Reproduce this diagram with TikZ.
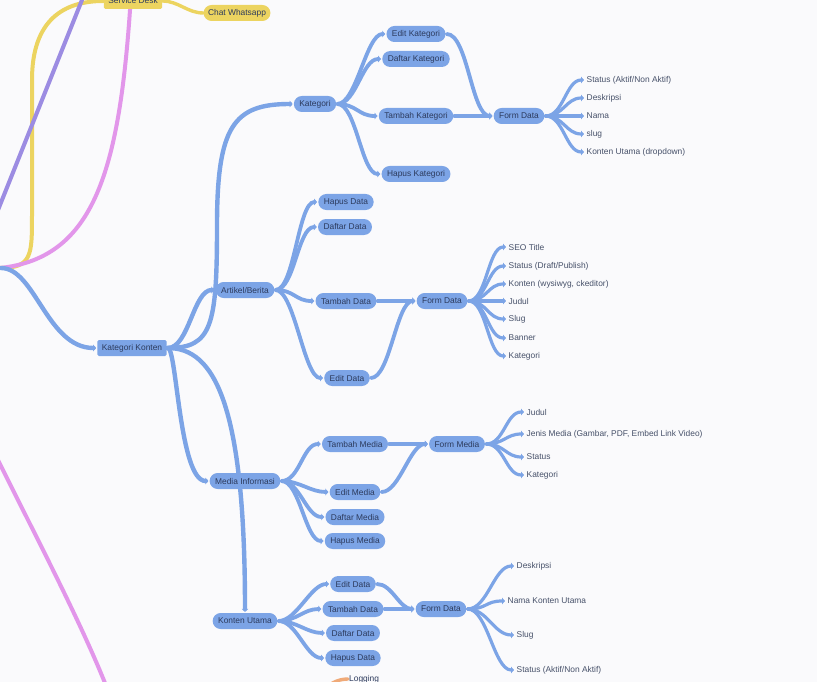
\documentclass[tikz,border=0pt]{standalone}
\usepackage{fontspec}
\setmainfont{Liberation Sans}
\usetikzlibrary{arrows.meta, positioning, backgrounds}
\definecolor{mapblue}{RGB}{124,164,230}
\definecolor{mapink}{RGB}{44,58,92}
\definecolor{leafink}{RGB}{70,80,105}
\definecolor{deskyellow}{RGB}{236,212,96}
\definecolor{linkpink}{RGB}{226,150,234}
\definecolor{linkviolet}{RGB}{156,140,226}
\definecolor{logorange}{RGB}{240,170,120}
\definecolor{paper}{RGB}{250,250,252}

\begin{document}
\begin{tikzpicture}[x=1pt, y=-1pt, font=\fontsize{8.4}{10}\selectfont,
  pill/.style={fill=mapblue, text=mapink, rounded corners=8pt, minimum height=16pt, inner xsep=5.5pt, inner ysep=0pt},
  topic/.style={pill, rounded corners=1.5pt, inner xsep=4.5pt},
  leaf/.style={text=leafink, anchor=west, inner sep=1.5pt},
  branch/.style={draw=mapblue, line width=3.8pt, line cap=round, shorten <=1pt, shorten >=1pt, -{Triangle[length=3pt, width=6.5pt]}},
  trunk/.style={branch, line width=4.4pt},
  twig/.style={branch, line width=3.2pt},
  deskline/.style={draw=deskyellow, line width=4pt, line cap=round}
]
  \useasboundingbox (0,0) rectangle (817,682);

  % off-page root and the other top-level branches
  \coordinate (root) at (0,268);
  \coordinate (ylow) at (32,215);
  \coordinate (yhigh) at (32,80);
  \coordinate (pinktop) at (131,-5);
  \coordinate (violetlow) at (-8,225);
  \coordinate (violettop) at (84,-5);
  \coordinate (pinklow) at (-3,458);
  \coordinate (pinkend) at (107,688);
  \coordinate (logstart) at (326,688);
  \coordinate (katspine) at (217,226);

  \node[topic, fill=deskyellow] (sd) at (133,1) {Service Desk};
  \node[pill, fill=deskyellow, inner xsep=4.5pt] (wa) at (237,13) {Chat Whatsapp};
  \node[text=mapink, anchor=west, inner sep=1pt] (log) at (348,679) {Logging};

  % Kategori Konten
  \node[topic] (kk) at (132,348) {Kategori Konten};

  % Kategori
  \node[pill] (kat) at (315,104) {Kategori};
  \node[pill] (ekat) at (416,34) {Edit Kategori};
  \node[pill] (dkat) at (416,59) {Daftar Kategori};
  \node[pill] (tkat) at (416,116) {Tambah Kategori};
  \node[pill] (hkat) at (416,174) {Hapus Kategori};
  \node[pill] (fkat) at (519,116) {Form Data};
  \node[leaf] (fk1) at (585,80) {Status (Aktif/Non Aktif)};
  \node[leaf] (fk2) at (585,98) {Deskripsi};
  \node[leaf] (fk3) at (585,116) {Nama};
  \node[leaf] (fk4) at (585,134) {slug};
  \node[leaf] (fk5) at (585,152) {Konten Utama (dropdown)};

  % Artikel/Berita
  \node[pill] (art) at (245,290) {Artikel/Berita};
  \node[pill] (hdat) at (346,202) {Hapus Data};
  \node[pill] (ddat) at (345,227) {Daftar Data};
  \node[pill] (tdat) at (346,301) {Tambah Data};
  \node[pill] (edat) at (347,378) {Edit Data};
  \node[pill] (fart) at (442,301) {Form Data};
  \node[leaf] (fa1) at (507,247) {SEO Title};
  \node[leaf] (fa2) at (507,266) {Status (Draft/Publish)};
  \node[leaf] (fa3) at (507,284) {Konten (wysiwyg, ckeditor)};
  \node[leaf] (fa4) at (507,301) {Judul};
  \node[leaf] (fa5) at (507,319) {Slug};
  \node[leaf] (fa6) at (507,338) {Banner};
  \node[leaf] (fa7) at (507,356) {Kategori};

  % Media Informasi
  \node[pill] (med) at (245,481) {Media Informasi};
  \node[pill] (tmed) at (355,444) {Tambah Media};
  \node[pill] (emed) at (355,492) {Edit Media};
  \node[pill] (dmed) at (355,517) {Daftar Media};
  \node[pill] (hmed) at (355,541) {Hapus Media};
  \node[pill] (fmed) at (457,444) {Form Media};
  \node[leaf] (fm1) at (525,412) {Judul};
  \node[leaf] (fm2) at (525,434) {Jenis Media (Gambar, PDF, Embed Link Video)};
  \node[leaf] (fm3) at (525,457) {Status};
  \node[leaf] (fm4) at (525,475) {Kategori};

  % Konten Utama
  \node[pill] (ku) at (245,621) {Konten Utama};
  \node[pill] (ekud) at (353,584) {Edit Data};
  \node[pill] (tkud) at (353,609) {Tambah Data};
  \node[pill] (dkud) at (353,633) {Daftar Data};
  \node[pill] (hkud) at (353,658) {Hapus Data};
  \node[pill] (fku) at (441,609) {Form Data};
  \node[leaf] (fu1) at (515,566) {Deskripsi};
  \node[leaf] (fu2) at (506,601) {Nama Konten Utama};
  \node[leaf] (fu3) at (515,635) {Slug};
  \node[leaf] (fu4) at (515,670) {Status (Aktif/Non Aktif)};

  \begin{scope}[on background layer]
    \fill[paper] (0,0) rectangle (817,682);

    \draw[deskline] (root) .. controls +(32,0) and +(0,40) .. (ylow) -- (yhigh) .. controls +(0,-60) and +(-40,0) .. (sd.west);
    \draw[deskline, line width=3.4pt] (sd.east) to[out=0, in=180, distance=16pt] (wa.west);
    \draw[draw=linkviolet, line width=4pt] (violetlow) -- (violettop);
    \draw[draw=linkpink, line width=4pt] (root) .. controls (95,258) and (120,170) .. (pinktop);
    \draw[draw=linkpink, line width=4pt] (pinklow) .. controls (35,535) and (80,620) .. (pinkend);
    \draw[draw=logorange, line width=3.4pt, line cap=round] (logstart) .. controls +(6,-6) and +(-8,0) .. (log.west);

    \draw[trunk] (root) .. controls +(35,0) and +(-50,0) .. (kk.west);

    % branches out of Kategori Konten
    \draw[trunk] (kk.east) .. controls +(45,0) and +(0,100) .. (katspine) .. controls +(0,-100) and +(-60,0) .. (kat.west);
    \draw[trunk] (kk.east) to[out=0, in=180, distance=22pt] (art.west);
    \draw[trunk] (kk.east) .. controls +(10,0) and +(-30,0) .. (med.west);
    \draw[trunk] (kk.east) .. controls +(47,0) and +(0,-210) .. (ku.north);

    \foreach \c in {ekat,dkat,tkat,hkat} \draw[branch] (kat.east) to[out=0, in=180, distance=20pt] (\c.west);
    \foreach \c in {ekat,tkat} \draw[branch] (\c.east) to[out=0, in=180, distance=22pt] (fkat.west);
    \foreach \c in {fk1,fk2,fk3,fk4,fk5} \draw[twig] (fkat.east) to[out=0, in=180, distance=19pt] (\c.west);

    \foreach \c in {hdat,ddat,tdat,edat} \draw[branch] (art.east) to[out=0, in=180, distance=20pt] (\c.west);
    \foreach \c in {tdat,edat} \draw[branch] (\c.east) to[out=0, in=180, distance=20pt] (fart.west);
    \foreach \c in {fa1,fa2,fa3,fa4,fa5,fa6,fa7} \draw[twig] (fart.east) to[out=0, in=180, distance=19pt] (\c.west);

    \foreach \c in {tmed,emed,dmed,hmed} \draw[branch] (med.east) to[out=0, in=180, distance=19pt] (\c.west);
    \foreach \c in {tmed,emed} \draw[branch] (\c.east) to[out=0, in=180, distance=19pt] (fmed.west);
    \foreach \c in {fm1,fm2,fm3,fm4} \draw[twig] (fmed.east) to[out=0, in=180, distance=19pt] (\c.west);

    \foreach \c in {ekud,tkud,dkud,hkud} \draw[branch] (ku.east) to[out=0, in=180, distance=19pt] (\c.west);
    \foreach \c in {ekud,tkud} \draw[branch] (\c.east) to[out=0, in=180, distance=16pt] (fku.west);
    \foreach \c in {fu1,fu2,fu3,fu4} \draw[twig] (fku.east) to[out=0, in=180, distance=21pt] (\c.west);
  \end{scope}
\end{tikzpicture}
\end{document}
